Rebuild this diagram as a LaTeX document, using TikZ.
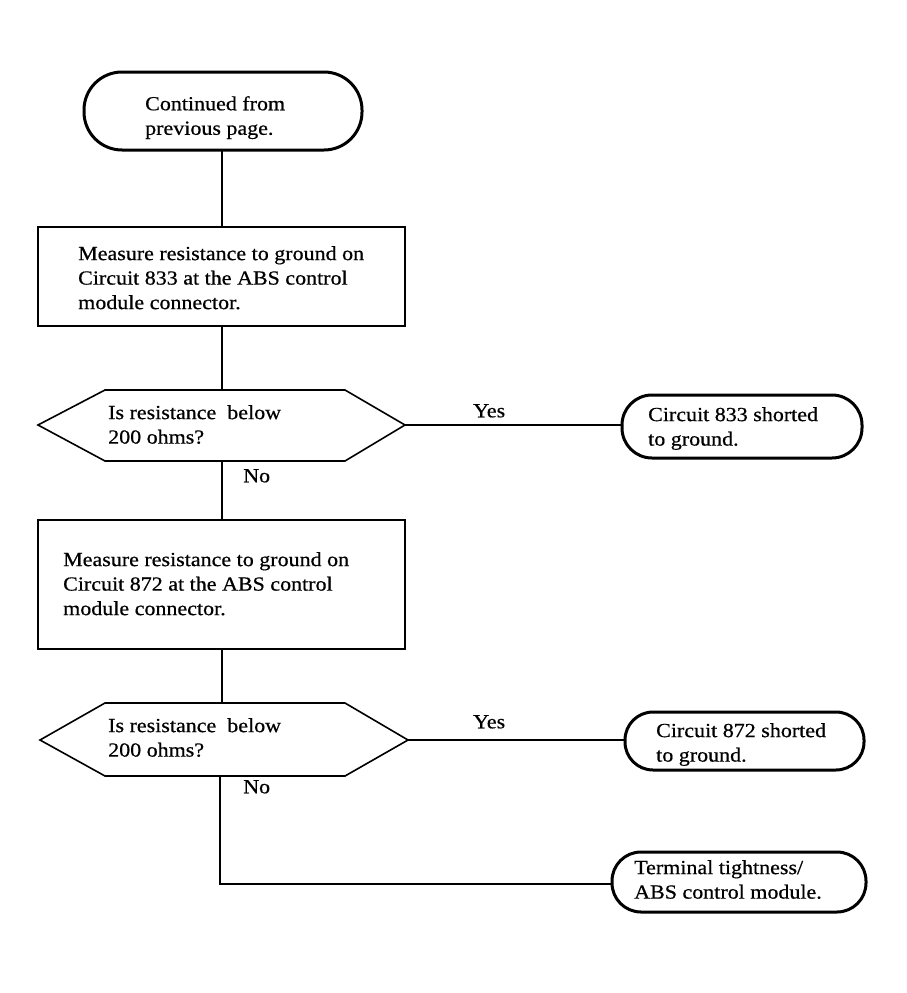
\documentclass[tikz,border=0pt]{standalone}
\usepackage{fontspec}
\setmainfont{Liberation Serif}[FakeStretch=1.1,FakeBold=0.6]
\begin{document}
\begin{tikzpicture}[x=1pt,y=-1pt,
 term/.style={draw,line width=3pt,inner sep=0},
 box/.style={draw,line width=1.8pt},
 hexa/.style={draw,line width=1.6pt},
 ln/.style={line width=1.3pt},
 txt/.style={font=\fontsize{20}{24.5}\selectfont,align=left,anchor=north west,inner sep=0}]
\useasboundingbox (0,0) rectangle (906,993);
% start
\draw[term,rounded corners=38pt] (84,72) rectangle (362,150);
\node[txt] (t0) at (145,96) {Continued from\\previous page.};
\coordinate (s0) at (222,150);
% box 1
\draw[box] (38,227) rectangle (405,326);
\node[txt] (b1) at (78,246) {Measure resistance to ground on\\Circuit 833 at the ABS control\\module connector.};
\draw[ln] (s0) -- (222,227);
\draw[ln] (222,326) -- (222,390);
% diamond 1
\draw[hexa] (38,425) -- (105,390) -- (345,390) -- (405,425) -- (345,461) -- (105,461) -- cycle;
\node[txt] (d1) at (108,405) {Is resistance\ \ below\\200 ohms?};
\draw[ln] (405,425) -- (622,425);
\node[txt] (y1) at (473,404) {Yes};
\draw[term,rounded corners=30pt] (622,395) rectangle (862,458);
\node[txt] (r1) at (648,407) {Circuit 833 shorted\\to ground.};
\node[txt] (n1) at (243,469) {No};
\draw[ln] (222,461) -- (222,520);
% box 2
\draw[box] (38,520) rectangle (405,649);
\node[txt] (b2) at (63,552) {Measure resistance to ground on\\Circuit 872 at the ABS control\\module connector.};
\draw[line width=2.2pt] (222,649) -- (222,703);
% diamond 2
\draw[hexa] (40,740) -- (105,703) -- (345,703) -- (408,740) -- (345,776) -- (105,776) -- cycle;
\node[txt] (d2) at (108,718) {Is resistance\ \ below\\200 ohms?};
\draw[ln] (408,740) -- (625,740);
\node[txt] (y2) at (473,715) {Yes};
\draw[term,rounded corners=28pt] (625,712) rectangle (864,770);
\node[txt] (r2) at (656,723) {Circuit 872 shorted\\to ground.};
\node[txt] (n2) at (243,780) {No};
\draw[ln] (220,776) -- (220,884) -- (612,884);
\draw[term,rounded corners=29pt] (612,852) rectangle (866,912);
\node[txt] (r3) at (634,860) {Terminal tightness/\\ABS control module.};
\end{tikzpicture}
\end{document}
